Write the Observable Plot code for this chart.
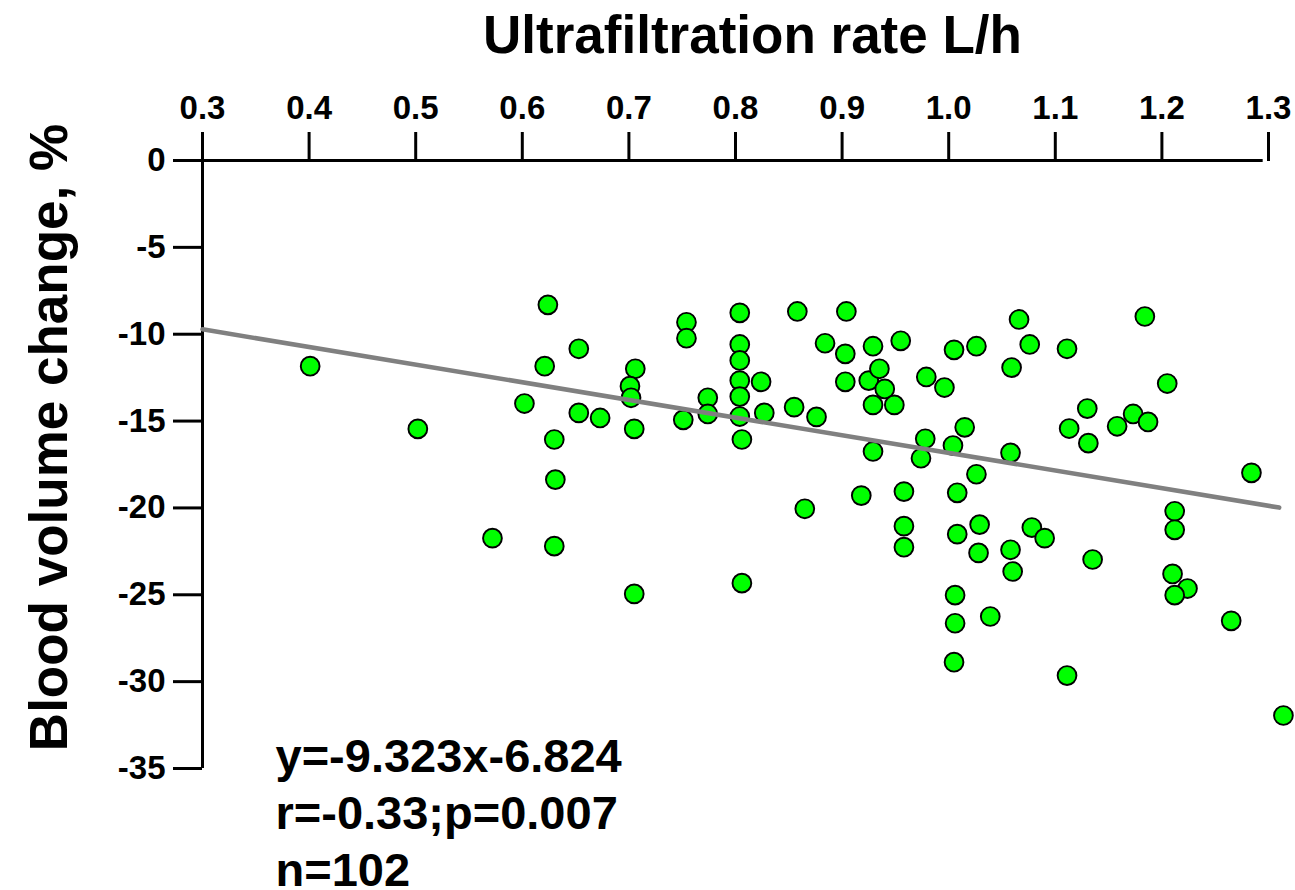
<!DOCTYPE html>
<html>
<head>
<meta charset="utf-8">
<script src="https://cdn.jsdelivr.net/npm/d3@7"></script>
<script src="https://cdn.jsdelivr.net/npm/@observablehq/plot@0.6"></script>
<style>
  html, body { margin: 0; padding: 0; background: #fff; }
  #chart svg { display: block; font-family: "Liberation Sans", Arial, Helvetica, sans-serif; }
</style>
</head>
<body>
<div id="chart"></div>
<script>
// Ultrafiltration rate (L/h) for each patient
const ufRate = [
  0.401, 0.502, 0.624, 0.653, 0.621, 0.602, 0.653, 0.630, 0.631, 0.572,
  0.630, 0.673, 0.706, 0.701, 0.702, 0.705, 0.705, 0.754, 0.754, 0.751,
  0.774, 0.774, 0.804, 0.804, 0.804, 0.804, 0.804, 0.804, 0.806, 0.806,
  0.824, 0.827, 0.855, 0.858, 0.865, 0.876, 0.884, 0.904, 0.903, 0.903,
  0.918, 0.929, 0.925, 0.929, 0.929, 0.955, 0.935, 0.940, 0.949, 1.005,
  1.026, 1.066, 1.076, 1.059, 1.111, 0.979, 0.996, 1.015, 0.978, 1.004,
  0.974, 1.058, 1.026, 0.958, 1.008, 1.130, 1.113, 1.131, 0.958, 0.958,
  1.008, 1.029, 1.028, 1.058, 1.060, 1.078, 1.090, 1.135, 1.006, 1.006,
  1.039, 1.005, 1.111, 1.184, 1.205, 1.158, 1.173, 1.187, 1.284, 1.212,
  1.212, 1.210, 1.224, 1.212, 1.265, 1.314
];
// Blood volume change (%) for each patient
const bvChange = [
  -11.84, -15.45, -8.31, -10.84, -11.84, -13.99, -14.53, -16.06, -18.37, -21.74,
  -22.20, -14.82, -11.99, -12.99, -13.66, -15.45, -24.95, -9.31, -10.23, -14.93,
  -13.66, -14.59, -8.77, -10.59, -11.51, -12.67, -13.59, -14.74, -16.06, -24.33,
  -12.74, -14.53, -14.20, -8.69, -20.05, -14.76, -10.52, -8.69, -11.13, -12.74,
  -19.29, -10.69, -12.67, -14.07, -16.75, -10.38, -11.99, -13.15, -14.07, -10.90,
  -10.69, -9.15, -10.59, -11.92, -10.84, -12.46, -13.07, -15.36, -16.02, -16.41,
  -17.14, -16.83, -18.06, -19.06, -19.13, -14.28, -15.43, -16.27, -21.05, -22.26,
  -21.51, -20.96, -22.59, -22.41, -23.66, -21.13, -21.74, -22.97, -25.02, -26.64,
  -26.25, -28.88, -29.65, -8.98, -12.84, -15.30, -14.59, -15.05, -17.98, -20.19,
  -21.26, -23.80, -24.64, -25.02, -26.50, -31.95
];
// Regression line as drawn in the figure (end points)
const trendX = [0.30, 1.31];
const trendY = [-9.72, -19.98];

const xTicks = [0.3, 0.4, 0.5, 0.6, 0.7, 0.8, 0.9, 1.0, 1.1, 1.2, 1.3];
const yTicks = [0, -5, -10, -15, -20, -25, -30, -35];
const xAxisEnd = 1.295;

const titleText = "Ultrafiltration rate L/h";
const yLabelText = "Blood volume change, %";
const statLines = ["y=-9.323x-6.824", "r=-0.33;p=0.007", "n=102"];

const points = ufRate.map((x, i) => ({x, y: bvChange[i]}));
const trend = trendX.map((x, i) => ({x, y: trendY[i]}));

const bold = {fontWeight: "bold"};

const chart = Plot.plot({
  width: 1295,
  height: 890,
  marginLeft: 202,
  marginRight: 27,
  marginTop: 160,
  marginBottom: 122,
  x: {domain: [0.3, 1.3]},
  y: {domain: [-35, 0]},
  style: {fontFamily: '"Liberation Sans", Arial, Helvetica, sans-serif', color: "#000", background: "#fff"},
  marks: [
    Plot.axisX({
      anchor: "top", ticks: xTicks, tickSize: 29, tickPadding: 13,
      tickFormat: d3.format(".1f"), fontSize: 33, fontWeight: "bold",
      strokeWidth: 3, label: null
    }),
    Plot.axisY({
      anchor: "left", ticks: yTicks, tickSize: 29, tickPadding: 8,
      tickFormat: d => String(d), fontSize: 33, fontWeight: "bold",
      strokeWidth: 3, label: null
    }),
    Plot.ruleY([0], {x1: 0.3, x2: xAxisEnd, stroke: "#000", strokeWidth: 3}),
    Plot.ruleX([0.3], {y1: yTicks[yTicks.length - 1], y2: 0, stroke: "#000", strokeWidth: 3}),
    Plot.dot(points, {x: "x", y: "y", r: 9.4, fill: "#00ff00", stroke: "#000", strokeWidth: 1.9}),
    Plot.line(trend, {x: "x", y: "y", stroke: "#808080", strokeWidth: 4.6}),
    Plot.text([titleText], {
      frameAnchor: "top", textAnchor: "middle", lineAnchor: "bottom",
      dx: 17, dy: -108, fontSize: 53, ...bold, fill: "#000"
    }),
    Plot.text([yLabelText], {
      frameAnchor: "left", textAnchor: "middle", lineAnchor: "bottom", rotate: -90,
      dx: -136, dy: -27, fontSize: 53, ...bold, fill: "#000"
    }),
    ...statLines.map((t, i) => Plot.text([t], {
      frameAnchor: "bottom-left", textAnchor: "start", lineAnchor: "bottom",
      dx: 73, dy: 3 + i * 57, fontSize: 47, ...bold, fill: "#000"
    }))
  ]
});
document.getElementById("chart").append(chart);
</script>
</body>
</html>
